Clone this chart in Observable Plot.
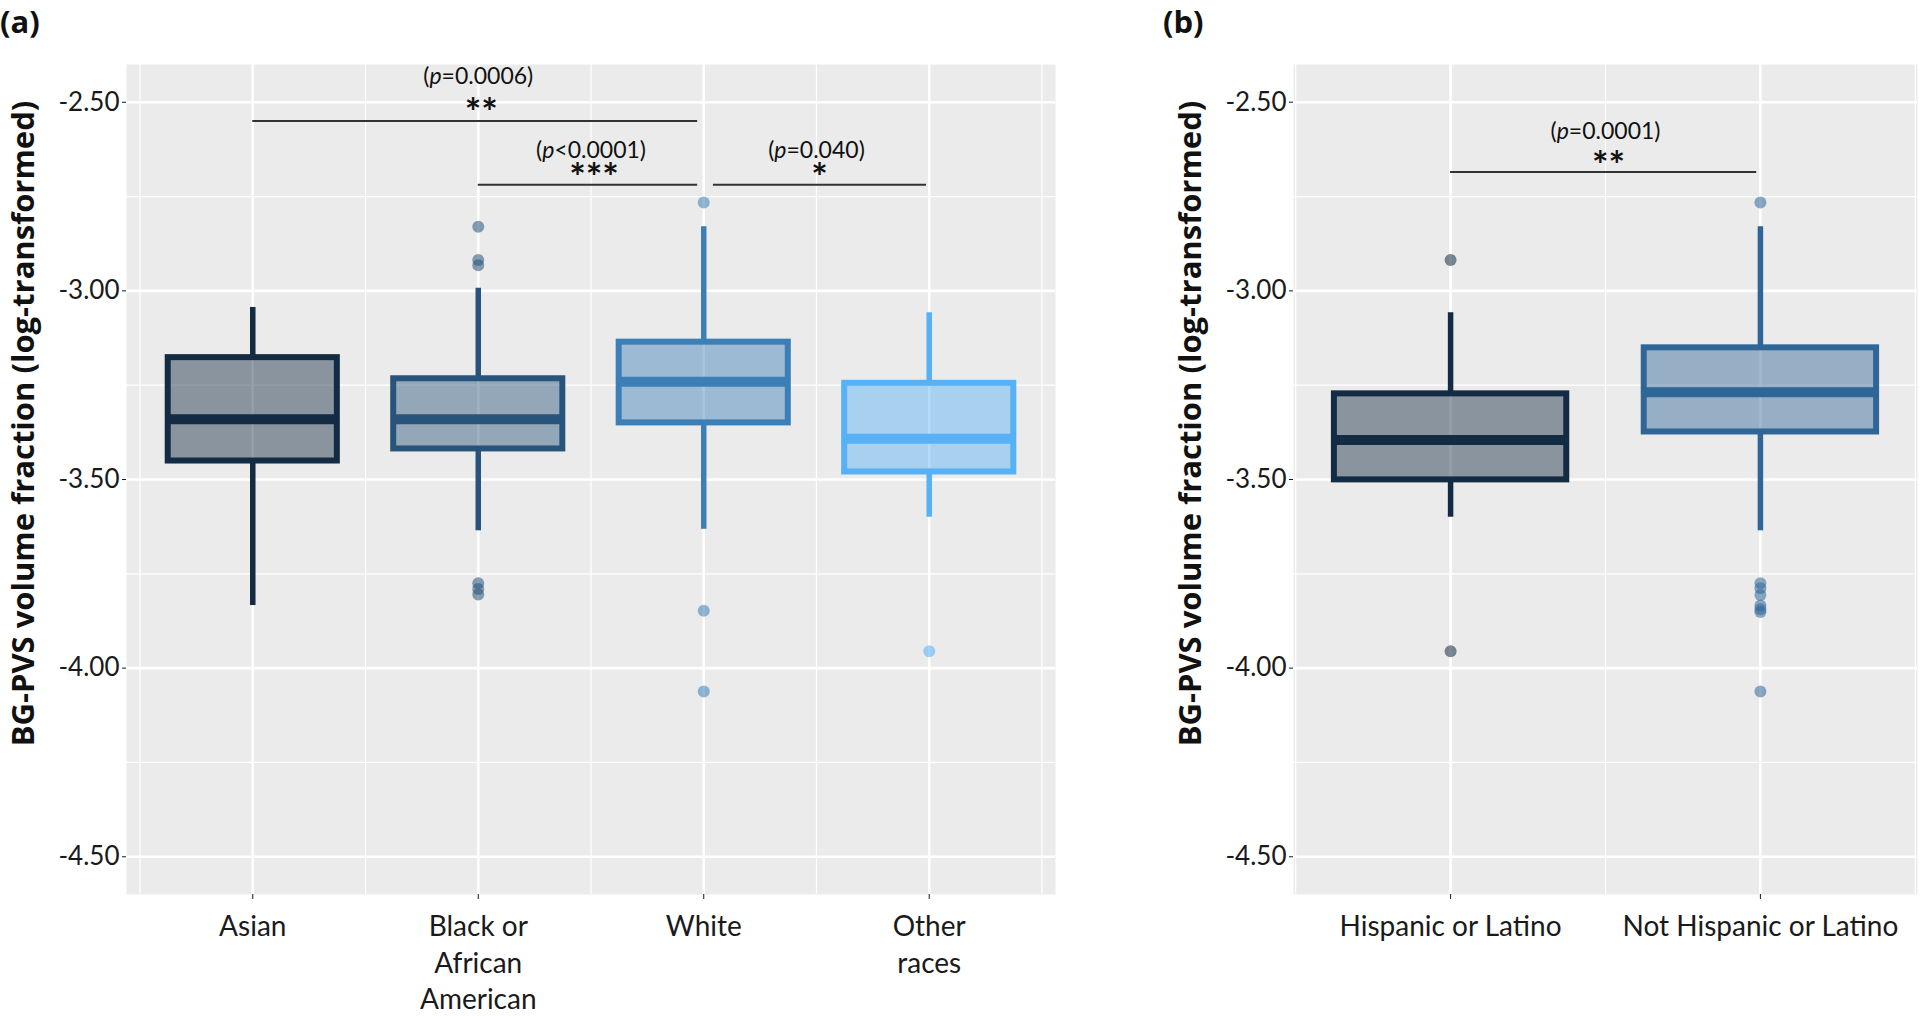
<!DOCTYPE html>
<html><head><meta charset="utf-8">
<script src="https://cdn.jsdelivr.net/npm/d3@7"></script>
<script src="https://cdn.jsdelivr.net/npm/@observablehq/plot@0.6"></script>
<style>
html,body{margin:0;padding:0;background:#fff;}
#wrap{position:relative;width:1920px;height:1016px;overflow:hidden;background:#fff;}
.panel{position:absolute;top:0;}
.tag{position:absolute;top:3px;font-family:"Open Sans";font-weight:700;font-size:31px;line-height:36px;color:#111;}
</style></head><body>
<div id="wrap">
<div id="pa" class="panel" style="left:0px"></div>
<div id="pb" class="panel" style="left:1165px"></div>
<div class="tag" style="left:0px">(a)</div>
<div class="tag" style="left:1163px">(b)</div>
</div>
<script>
// ---------- DATA ----------
const yTitle = "BG-PVS volume fraction (log-transformed)";
const yTicks = [-4.5, -4.0, -3.5, -3.0, -2.5];

// Panel (a): race
const raceCats = ["Asian", "Black or African American", "White", "Other races"];
const raceTickLabels = ["Asian", "Black or\nAfrican\nAmerican", "White", "Other\nraces"];
const raceQ1 = [-3.451, -3.419, -3.350, -3.480];
const raceMedian = [-3.340, -3.340, -3.241, -3.392];
const raceQ3 = [-3.177, -3.233, -3.136, -3.245];
const raceWhiskerLow = [-3.834, -3.636, -3.632, -3.600];
const raceWhiskerHigh = [-3.044, -2.993, -2.830, -3.058];
const raceOutlierCat = ["Black or African American", "Black or African American", "Black or African American",
  "Black or African American", "Black or African American", "Black or African American",
  "White", "White", "White", "Other races"];
const raceOutlierVal = [-2.830, -2.918, -2.932, -3.775, -3.790, -3.805, -2.766, -3.848, -4.062, -3.955];
const raceBracketFrom = ["Asian", "Black or African American", "White"];
const raceBracketTo = ["White", "White", "Other races"];
const raceBracketY = [-2.550, -2.719, -2.719];
const racePLabels = ["(p=0.0006)", "(p<0.0001)", "(p=0.040)"];
const racePLabelY = [-2.432, -2.627, -2.627];
const raceStars = ["**", "***", "*"];
const raceStarY = [-2.506, -2.679, -2.679];

// Panel (b): ethnicity
const ethCats = ["Hispanic or Latino", "Not Hispanic or Latino"];
const ethTickLabels = ["Hispanic or Latino", "Not Hispanic or Latino"];
const ethQ1 = [-3.501, -3.374];
const ethMedian = [-3.395, -3.269];
const ethQ3 = [-3.273, -3.151];
const ethWhiskerLow = [-3.600, -3.636];
const ethWhiskerHigh = [-3.058, -2.830];
const ethOutlierCat = ["Hispanic or Latino", "Hispanic or Latino",
  "Not Hispanic or Latino", "Not Hispanic or Latino", "Not Hispanic or Latino", "Not Hispanic or Latino",
  "Not Hispanic or Latino", "Not Hispanic or Latino", "Not Hispanic or Latino", "Not Hispanic or Latino"];
const ethOutlierVal = [-2.918, -3.955, -2.766, -3.775, -3.788, -3.806, -3.834, -3.844, -3.851, -4.062];
const ethBracketFrom = ["Hispanic or Latino"];
const ethBracketTo = ["Not Hispanic or Latino"];
const ethBracketY = [-2.685];
const ethPLabels = ["(p=0.0001)"];
const ethPLabelY = [-2.578];
const ethStars = ["**"];
const ethStarY = [-2.646];

// ---------- STYLE ----------
const raceColors = ["#132B43", "#28547B", "#3C7FB7", "#56B1F7"];
const ethColors = ["#132B43", "#2F6697"];

function boxPanel(cfg) {
  const {cats, tickLabels, q1, med, q3, lo, hi, outCat, outVal, colors,
         brFrom, brTo, brY, pLabels, pY, stars, starY,
         width, marginLeft, marginRight, xPad} = cfg;
  const n = cats.length;
  const idx = c => cats.indexOf(c) + 1;
  const half = 0.375;
  const boxes = cats.map((c, i) => ({i: i + 1, q1: q1[i], med: med[i], q3: q3[i], lo: lo[i], hi: hi[i], color: colors[i]}));
  const outs = outCat.map((c, k) => ({i: idx(c), v: outVal[k], color: colors[idx(c) - 1]}));
  const brackets = brFrom.map((f, k) => {
    const sharedStart = brTo.some((t, j) => j !== k && t === f);
    const x1 = idx(f) + (sharedStart ? 0.043 : 0);
    const x2 = idx(brTo[k]) - (brFrom.some((g, j) => j !== k && g === brTo[k]) ? 0.027 : 0.012);
    return {x1, x2, xm: (idx(f) + idx(brTo[k])) / 2, y: brY[k], p: pLabels[k], py: pY[k], s: stars[k], sy: starY[k]};
  });
  const majorX = d3.range(1, n + 1);
  const minorX = d3.range(0.5, n + 1, 1);
  const minorY = [-4.25, -3.75, -3.25, -2.75];
  const plot = Plot.plot({
    width, height: 1016, marginLeft, marginRight, marginTop: 64, marginBottom: 122,
    style: {fontFamily: "Lato", fontSize: "26px", color: "#1a1a1a", background: "transparent", overflow: "visible"},
    x: {domain: [1 - xPad, n + xPad], axis: null},
    y: {domain: [-4.6, -2.4], axis: null},
    color: {type: "identity"},
    marks: [
      Plot.frame({fill: "#EBEBEB", stroke: null}),
      Plot.gridY(minorY, {stroke: "#fff", strokeOpacity: 1, strokeWidth: 1.2}),
      Plot.gridX(minorX, {stroke: "#fff", strokeOpacity: 1, strokeWidth: 1.2}),
      Plot.gridY(yTicks, {stroke: "#fff", strokeOpacity: 1, strokeWidth: 2.6}),
      Plot.gridX(majorX, {stroke: "#fff", strokeOpacity: 1, strokeWidth: 2.6}),
      Plot.axisY(yTicks, {tickSize: 4, tickPadding: 3, tickFormat: d => d.toFixed(2), fontSize: 26, label: null}),
      Plot.axisX(majorX, {tickSize: 5, tickPadding: 11, tickFormat: d => tickLabels[d - 1], fontSize: 28, lineHeight: 1.3, label: null}),
      Plot.text([yTitle], {text: d => d, frameAnchor: "left", textAnchor: "middle", rotate: -90, dx: -102, dy: -56,
        fontFamily: "Open Sans", fontWeight: 700, fontSize: 31, fill: "#111"}),
      Plot.ruleX(boxes, {x: "i", y1: "q3", y2: "hi", stroke: "color", strokeWidth: 5.5}),
      Plot.ruleX(boxes, {x: "i", y1: "lo", y2: "q1", stroke: "color", strokeWidth: 5.5}),
      Plot.rect(boxes, {x1: d => d.i - half, x2: d => d.i + half, y1: "q1", y2: "q3",
        fill: "color", fillOpacity: 0.45, stroke: "color", strokeWidth: 6}),
      Plot.ruleY(boxes, {x1: d => d.i - half, x2: d => d.i + half, y: "med", stroke: "color", strokeWidth: 10}),
      Plot.dot(outs, {x: "i", y: "v", r: 6, fill: "color", fillOpacity: 0.55, stroke: null}),
      Plot.ruleY(brackets, {x1: "x1", x2: "x2", y: "y", stroke: "#333", strokeWidth: 2}),
      Plot.text(brackets, {x: "xm", y: "py", text: "p", fontSize: 23, fill: "#111"}),
      Plot.text(brackets, {x: "xm", y: "sy", text: "s", fontSize: 39, fontWeight: 700, dy: 9, dx: 3, fill: "#111", letterSpacing: 6})
    ]
  });
  plot.querySelectorAll("text").forEach(t => {
    const s = t.textContent;
    if (t.children.length === 0 && /^\(p[<=]/.test(s)) {
      t.textContent = "(";
      const ts = document.createElementNS("http://www.w3.org/2000/svg", "tspan");
      ts.setAttribute("font-style", "italic");
      ts.textContent = "p";
      t.appendChild(ts);
      t.appendChild(document.createTextNode(s.slice(2)));
    }
  });
  return plot;
}

document.getElementById("pa").appendChild(boxPanel({
  cats: raceCats, tickLabels: raceTickLabels, q1: raceQ1, med: raceMedian, q3: raceQ3,
  lo: raceWhiskerLow, hi: raceWhiskerHigh, outCat: raceOutlierCat, outVal: raceOutlierVal, colors: raceColors,
  brFrom: raceBracketFrom, brTo: raceBracketTo, brY: raceBracketY, pLabels: racePLabels, pY: racePLabelY,
  stars: raceStars, starY: raceStarY,
  width: 1080, marginLeft: 126, marginRight: 25, xPad: 0.56
}));
document.getElementById("pb").appendChild(boxPanel({
  cats: ethCats, tickLabels: ethTickLabels, q1: ethQ1, med: ethMedian, q3: ethQ3,
  lo: ethWhiskerLow, hi: ethWhiskerHigh, outCat: ethOutlierCat, outVal: ethOutlierVal, colors: ethColors,
  brFrom: ethBracketFrom, brTo: ethBracketTo, brY: ethBracketY, pLabels: ethPLabels, pY: ethPLabelY,
  stars: ethStars, starY: ethStarY,
  width: 755, marginLeft: 128, marginRight: 3, xPad: 0.507
}));
</script>
</body></html>
